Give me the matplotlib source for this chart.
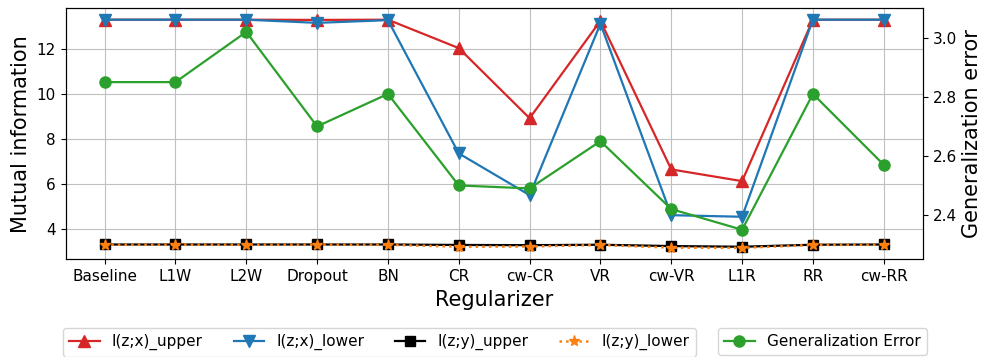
import numpy as np
import matplotlib
matplotlib.use('Agg')
import matplotlib.pyplot as plt

regularizers = ['Baseline', 'L1W', 'L2W', 'Dropout', 'BN', 'CR', 'cw-CR',
                'VR', 'cw-VR', 'L1R', 'RR', 'cw-RR']

izx_upper = [13.29, 13.29, 13.29, 13.28, 13.29, 12.03, 8.92, 13.24, 6.65, 6.13, 13.29, 13.29]
izx_lower = [13.29, 13.29, 13.29, 13.15, 13.27, 7.36, 5.51, 13.11, 4.62, 4.55, 13.29, 13.29]
izy_upper = [3.32, 3.32, 3.32, 3.32, 3.32, 3.30, 3.29, 3.31, 3.25, 3.22, 3.31, 3.32]
izy_lower = [3.31, 3.31, 3.31, 3.31, 3.31, 3.22, 3.23, 3.30, 3.18, 3.17, 3.30, 3.31]
gen_error = [2.85, 2.85, 3.02, 2.70, 2.81, 2.50, 2.49, 2.65, 2.42, 2.35, 2.81, 2.57]

fig = plt.figure(figsize=(9.86, 3.57), dpi=100)
ax1 = fig.add_axes([0.0666, 0.2737, 0.8692, 0.7031])
x = np.arange(len(regularizers))

l1, = ax1.plot(x, izx_upper, '-^', color='tab:red', markersize=8, linewidth=1.6, label='I(z;x)_upper')
l2, = ax1.plot(x, izx_lower, '-v', color='tab:blue', markersize=8, linewidth=1.6, label='I(z;x)_lower')
l3, = ax1.plot(x, izy_upper, '-s', color='black', markersize=7, linewidth=1.6, label='I(z;y)_upper')
l4, = ax1.plot(x, izy_lower, ':*', color='tab:orange', markersize=8, linewidth=1.8, label='I(z;y)_lower')
ax1.set_xticks(x)
ax1.set_xticklabels(regularizers, fontsize=11)
ax1.tick_params(axis='y', labelsize=11)
ax1.set_xlabel('Regularizer', fontsize=15)
ax1.set_ylabel('Mutual information', fontsize=15)
ax1.grid(True, color='#c0c0c0')

ax2 = ax1.twinx()
l5, = ax2.plot(x, gen_error, '-o', color='tab:green', markersize=8, linewidth=1.6, label='Generalization Error')
ax2.set_ylim(2.25, 3.10)
ax2.set_yticks([2.4, 2.6, 2.8, 3.0])
ax2.tick_params(axis='y', labelsize=11)
ax2.set_ylabel('Generalization error', fontsize=15)

fig.legend(handles=[l1, l2, l3, l4], loc='upper left', bbox_to_anchor=(0.064, 0.081),
           ncol=4, fontsize=11, borderaxespad=0)
fig.legend(handles=[l5], loc='upper right', bbox_to_anchor=(0.940, 0.081),
           fontsize=11, borderaxespad=0)

fig.savefig('out.png', dpi=100)
